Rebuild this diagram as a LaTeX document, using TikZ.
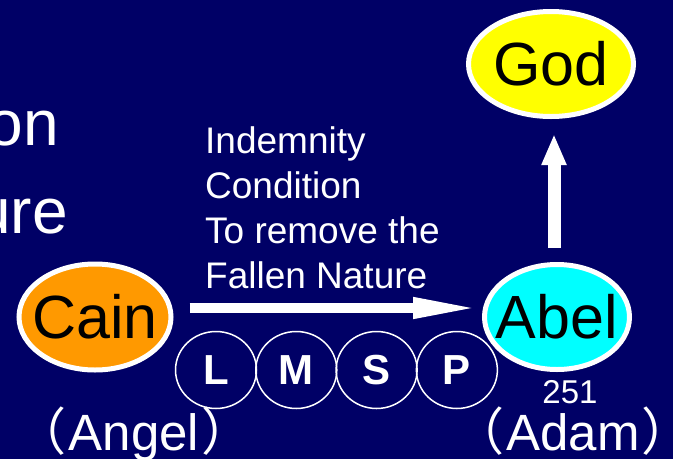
\documentclass[tikz,border=0pt]{standalone}
\usepackage{fontspec}
\setmainfont{Liberation Sans}
\newfontfamily\cjkfont{Noto Sans CJK SC}
\usepackage{tikz}
\usetikzlibrary{arrows.meta,shapes.geometric}
\definecolor{slidebg}{RGB}{0,0,102}
\definecolor{godyellow}{RGB}{255,255,0}
\definecolor{cainorange}{RGB}{255,153,0}
\definecolor{abelcyan}{RGB}{0,255,255}

\begin{document}
\begin{tikzpicture}[
    x=1pt, y=-1pt,
    oval/.style={ellipse, draw=white, line width=5pt, inner xsep=-10pt, inner ysep=0pt,
                 font=\fontsize{61}{61}\selectfont, text=black},
    letter/.style={ellipse, draw=white, line width=1.5pt, inner sep=0pt,
                   minimum width=81pt, minimum height=77pt,
                   font=\fontsize{42}{42}\selectfont\bfseries, text=white},
    cond/.style={anchor=base west, inner sep=0pt, text=white,
                 font=\fontsize{37}{37}\selectfont},
    side/.style={anchor=base east, inner sep=0pt, text=white,
                 font=\fontsize{64}{64}\selectfont},
    role/.style={anchor=base, inner sep=0pt, text=white,
                 font=\fontsize{51}{51}\selectfont},
    harr/.style={-{Triangle[length=68pt, width=19pt]}, line width=10pt, white},
    varr/.style={-{Triangle[length=31pt, width=23pt]}, line width=13pt, white}
]
    \useasboundingbox (0,0) rectangle (673,459);
    \clip (0,0) rectangle (673,459);
    \fill[slidebg] (0,0) rectangle (673,459);

    % cut-off words at the left edge
    \node[side] (on)  at (59,145) {on};
    \node[side] (ure) at (68,233) {ure};

    \node[oval, fill=godyellow, minimum width=165pt, minimum height=105pt] (god) at (551,64) {God};
    \node[oval, fill=cainorange, minimum width=152pt, minimum height=106pt] (cain) at (95,317) {Cain};
    \node[oval, fill=abelcyan, minimum width=145pt, minimum height=105pt] (abel) at (557,317) {Abel};

    \foreach \t [count=\i from 0] in {Indemnity, Condition, To remove the, Fallen Nature}
        \node[cond] (cond\i) at (205,153+45*\i) {\t};

    \foreach \l [count=\i from 0] in {L,M,S,P}
        \node[letter] (lmsp\l) at (216+80.3*\i,370) {\l};

    \node[anchor=base, inner sep=0pt, text=white, font=\fontsize{33}{33}\selectfont] (num) at (570,403) {251};
    \node[role] (angel) at (134,450) {{\cjkfont （}\kern2pt Angel\kern2pt{\cjkfont ）}};
    \node[role] (adam)  at (573,450) {{\cjkfont （}\kern2pt Adam\kern2pt{\cjkfont ）}};

    \draw[harr, shorten <=16pt, shorten >=1pt] ([yshift=9pt]cain.east) -- ([yshift=9pt]abel.west);
    \draw[varr, shorten <=14pt, shorten >=15pt] ([xshift=-3pt]abel.north) -- ([xshift=-3pt]abel.north |- god.south);
\end{tikzpicture}
\end{document}
